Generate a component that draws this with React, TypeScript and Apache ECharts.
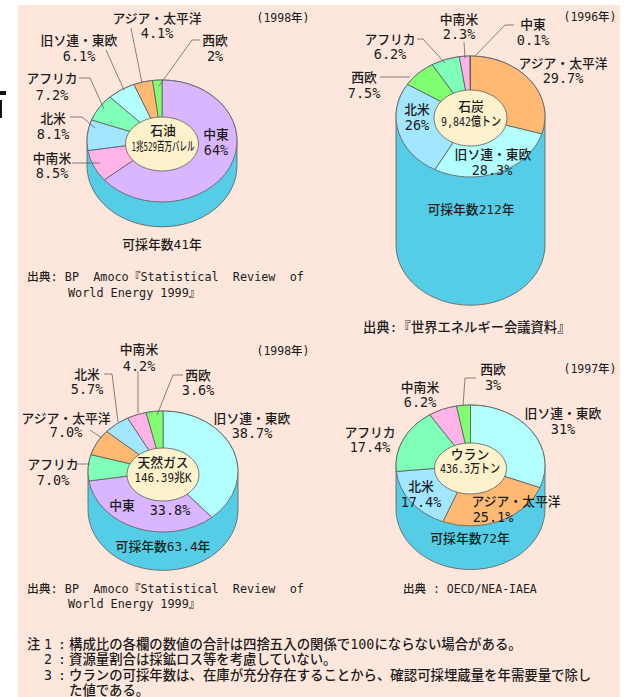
import React, { useEffect, useRef } from "react";
import * as echarts from "echarts";

// ---- data ----
const oilCategories = ["中東", "中南米", "北米", "アフリカ", "旧ソ連・東欧", "アジア・太平洋", "西欧"];
const oilValues = [64, 8.5, 8.1, 7.2, 6.1, 4.1, 2];
const coalCategories = ["アジア・太平洋", "旧ソ連・東欧", "北米", "西欧", "アフリカ", "中南米", "中東"];
const coalValues = [29.7, 28.3, 26, 7.5, 6.2, 2.3, 0.1];
const gasCategories = ["旧ソ連・東欧", "中東", "アフリカ", "アジア・太平洋", "北米", "中南米", "西欧"];
const gasValues = [38.7, 33.8, 7.0, 7.0, 5.7, 4.2, 3.6];
const uraniumCategories = ["旧ソ連・東欧", "アジア・太平洋", "北米", "アフリカ", "中南米", "西欧"];
const uraniumValues = [31, 25.1, 17.4, 17.4, 6.2, 3];
const valueTexts = {
  oil: ["64%", "8.5%", "8.1%", "7.2%", "6.1%", "4.1%", "2%"],
  coal: ["29.7%", "28.3%", "26%", "7.5%", "6.2%", "2.3%", "0.1%"],
  gas: ["38.7%", "33.8%", "7.0%", "7.0%", "5.7%", "4.2%", "3.6%"],
  uranium: ["31%", "25.1%", "17.4%", "17.4%", "6.2%", "3%"],
};
const years = ["(1998年)", "(1996年)", "(1998年)", "(1997年)"];
const resources = ["石油", "石炭", "天然ガス", "ウラン"];
const amounts = ["1兆529百万バレル", "9,842億トン", "146.39兆K", "436.3万トン"];
const reserveYears = [41, 212, 63.4, 72];
const reserveLife = ["可採年数41年", "可採年数212年", "可採年数63.4年", "可採年数72年"];
const notes = [
  "構成比の各欄の数値の合計は四捨五入の関係で100にならない場合がある。",
  "資源量割合は採鉱ロス等を考慮していない。",
  "ウランの可採年数は、在庫が充分存在することから、確認可採埋蔵量を年需要量で除し",
  "た値である。",
];

// ---- styling and layout ----
const FONT = '"DejaVu Sans Mono","Noto Sans CJK JP",monospace';
const INK = "#1c1c1c";
const EDGE = "#5c5c5c";
const PAGE_BG = "#fde6db";
const CYL = "#55cde6";
const HOLE = "#fdf2cc";
const DEPTH_PER_YEAR = 0.605;
const colors: Record<string, string> = {
  中東: "#d9b6ff",
  中南米: "#ffb3e6",
  北米: "#a3e6ff",
  アフリカ: "#80ffb8",
  旧ソ連・東欧: "#b3ffff",
  アジア・太平洋: "#ffb973",
  西欧: "#80ff73",
};

type Pie = {
  categories: string[]; values: number[]; texts: string[];
  cx: number; cy: number; rx: number; ry: number;
  holeCy: number; holeRx: number; holeRy: number;
  // label anchor: [category-name x, name y, value x, value y]
  labels: Record<string, number[]>;
  leaders: number[][][];
  year: number[]; center: number[]; amountY: number; amountScale: number; life: number[];
};

const pies: Pie[] = [
  {
    categories: oilCategories, values: oilValues, texts: valueTexts.oil,
    cx: 162, cy: 141, rx: 75, ry: 61, holeCy: 144, holeRx: 36.5, holeRy: 27,
    labels: {
      中東: [216, 134, 216, 150],
      中南米: [52, 158, 52, 173],
      北米: [53, 118, 53, 134],
      アフリカ: [52, 78, 52, 95],
      旧ソ連・東欧: [79, 40, 79, 56],
      アジア・太平洋: [157, 18, 157, 33],
      西欧: [215, 40, 215, 56],
    },
    leaders: [
      [[131, 28], [142, 83]],
      [[200, 40], [192, 40], [159, 86]],
      [[106, 50], [124, 90]],
      [[79, 78], [90, 78], [104, 109]],
      [[70, 117], [82, 117], [95, 128]],
      [[72, 163], [100, 163]],
    ],
    year: [283, 18], center: [163, 130], amountY: 146, amountScale: 0.6, life: [162, 244],
  },
  {
    categories: coalCategories, values: coalValues, texts: valueTexts.coal,
    cx: 470.5, cy: 116.5, rx: 74.5, ry: 60.5, holeCy: 118, holeRx: 36.5, holeRy: 28,
    labels: {
      アジア・太平洋: [563, 63, 563, 78],
      旧ソ連・東欧: [493, 154, 492, 170],
      北米: [417, 109, 417, 125],
      西欧: [364, 77, 364, 93],
      アフリカ: [390, 39, 390, 54],
      中南米: [459, 19, 459, 34],
      中東: [533, 24, 533, 40],
    },
    leaders: [
      [[514, 25], [505, 25], [475, 56]],
      [[417, 39], [423, 39], [445, 63]],
      [[380, 77], [410, 77]],
      [[464, 42], [465, 58]],
    ],
    year: [590, 17], center: [471, 106], amountY: 122, amountScale: 0.8, life: [471, 209],
  },
  {
    categories: gasCategories, values: gasValues, texts: valueTexts.gas,
    cx: 163, cy: 471.5, rx: 75, ry: 60.5, holeCy: 474.5, holeRx: 36, holeRy: 26.5,
    labels: {
      旧ソ連・東欧: [252, 418, 252, 433],
      中東: [122, 505, 170, 510],
      アフリカ: [53, 464, 53, 480],
      アジア・太平洋: [66, 418, 66, 432],
      北米: [87, 374, 87, 389],
      中南米: [139, 349, 139, 366],
      西欧: [198, 375, 198, 390],
    },
    leaders: [
      [[183, 375], [173, 375], [157, 415]],
      [[104, 374], [112, 374], [118, 422]],
      [[138, 371], [138, 413]],
      [[90, 430], [102, 438]],
      [[76, 464], [90, 464]],
    ],
    year: [283, 351], center: [163, 462], amountY: 478, amountScale: 0.88, life: [163, 546],
  },
  {
    categories: uraniumCategories, values: uraniumValues, texts: valueTexts.uranium,
    cx: 470.5, cy: 465.5, rx: 74.5, ry: 60.5, holeCy: 468.5, holeRx: 36, holeRy: 25.5,
    labels: {
      旧ソ連・東欧: [563, 413, 563, 429],
      アジア・太平洋: [516, 501, 493, 517],
      北米: [421, 486, 421, 502],
      アフリカ: [370, 432, 370, 447],
      中南米: [420, 387, 420, 402],
      西欧: [493, 369, 493, 385],
    },
    leaders: [[[476, 378], [465, 378], [463, 406]]],
    year: [590, 369], center: [470, 454], amountY: 469, amountScale: 0.8, life: [470, 538],
  },
];

const sources = [
  { x: 27, y: 277, size: 11.8, text: "出典: BP  Amoco『Statistical  Review  of" },
  { x: 68, y: 293, size: 11.8, text: "World Energy 1999』" },
  { x: 363, y: 327, size: 13.3, text: "出典:『世界エネルギー会議資料』" },
  { x: 27, y: 589, size: 11.8, text: "出典: BP  Amoco『Statistical  Review  of" },
  { x: 68, y: 604, size: 11.8, text: "World Energy 1999』" },
  { x: 403, y: 589, size: 11.5, text: "出典 : OECD/NEA-IAEA" },
];

const label = (text: string, x: number, y: number, size = 12.8, align = "center", extra: any = {}) => ({
  type: "text",
  z: 100,
  x,
  y,
  originX: 0,
  originY: 0,
  style: { text, fill: INK, font: `500 ${size}px ${FONT}`, align, verticalAlign: "middle" },
  silent: true,
  ...extra,
});

function buildOption() {
  const series: any[] = [];
  const graphic: any[] = [
    { type: "rect", z: 0, shape: { x: 18, y: 5, width: 602, height: 692 }, style: { fill: PAGE_BG }, silent: true },
    { type: "rect", z: 0, shape: { x: 0, y: 91, width: 6, height: 4 }, style: { fill: "#111" }, silent: true },
    { type: "rect", z: 0, shape: { x: 0, y: 100, width: 2, height: 18 }, style: { fill: "#111" }, silent: true },
  ];

  pies.forEach((p, pieIndex) => {
    const total = p.values.reduce((a, b) => a + b, 0);
    // cylinder side: height follows the reserve life
    series.push({
      type: "custom",
      coordinateSystem: "none",
      silent: true,
      data: [[reserveYears[pieIndex]]],
      renderItem: (_: any, api: any) => {
        const d = api.value(0) * DEPTH_PER_YEAR;
        const { cx, cy, rx, ry } = p;
        return {
          type: "path",
          shape: {
            pathData: `M${cx - rx} ${cy}L${cx - rx} ${cy + d}A${rx} ${ry} 0 0 0 ${cx + rx} ${cy + d}L${cx + rx} ${cy}A${rx} ${ry} 0 0 0 ${cx - rx} ${cy}Z`,
          },
          style: { fill: CYL, stroke: EDGE, lineWidth: 0.8 },
        };
      },
    });
    // slices, clockwise from the top
    let cum = 0;
    const data = p.values.map((v, i) => {
      const row = { name: p.categories[i], value: [cum, v] };
      cum += v;
      return row;
    });
    series.push({
      type: "custom",
      coordinateSystem: "none",
      silent: true,
      data,
      renderItem: (params: any, api: any) => {
        const a0 = (api.value(0) / total) * Math.PI * 2;
        const a1 = ((api.value(0) + api.value(1)) / total) * Math.PI * 2;
        const { cx, cy, rx, ry } = p;
        const x0 = cx + rx * Math.sin(a0), y0 = cy - ry * Math.cos(a0);
        const x1 = cx + rx * Math.sin(a1), y1 = cy - ry * Math.cos(a1);
        const large = a1 - a0 > Math.PI ? 1 : 0;
        return {
          type: "path",
          shape: { pathData: `M${cx} ${cy}L${x0} ${y0}A${rx} ${ry} 0 ${large} 1 ${x1} ${y1}Z` },
          style: { fill: colors[p.categories[params.dataIndex]], stroke: EDGE, lineWidth: 0.8 },
        };
      },
    });
    // centre hole
    series.push({
      type: "custom",
      coordinateSystem: "none",
      silent: true,
      data: [[total]],
      renderItem: () => ({
        type: "ellipse",
        shape: { cx: p.cx, cy: p.holeCy, rx: p.holeRx, ry: p.holeRy },
        style: { fill: HOLE, stroke: EDGE, lineWidth: 0.8 },
      }),
    });

    p.leaders.forEach((pts) =>
      graphic.push({
        type: "polyline",
        z: 90,
        shape: { points: pts },
        style: { stroke: "#666", lineWidth: 0.8, fill: "none" },
        silent: true,
      })
    );
    p.categories.forEach((c, i) => {
      const [nx, ny, vx, vy] = p.labels[c];
      graphic.push(label(c, nx, ny));
      graphic.push(label(p.texts[i], vx, vy, 13.5));
    });
  });

  pies.forEach((p, i) => {
    graphic.push(label(years[i], p.year[0], p.year[1], 11.5));
    graphic.push(label(resources[i], p.center[0], p.center[1]));
    graphic.push(label(amounts[i], p.center[0], p.amountY, 12.5, "center", { scaleX: p.amountScale }));
    graphic.push(label(reserveLife[i], p.life[0], p.life[1]));
  });

  sources.forEach((s) => graphic.push(label(s.text, s.x, s.y, s.size, "left")));

  graphic.push(label("注", 27, 644, 13.2, "left"));
  graphic.push(label("1", 44, 644, 13.2, "left"));
  graphic.push(label(":", 58, 644, 13.2, "left"));
  graphic.push(label("2", 44, 659, 13.2, "left"));
  graphic.push(label(":", 58, 659, 13.2, "left"));
  graphic.push(label("3", 44, 675, 13.2, "left"));
  graphic.push(label(":", 58, 675, 13.2, "left"));
  [644, 659, 675, 690].forEach((y, i) => graphic.push(label(notes[i], 69, y, 13.4, "left")));

  return { animation: false, backgroundColor: "#ffffff", series, graphic: { elements: graphic } };
}

export default function App() {
  const ref = useRef<HTMLDivElement>(null);
  useEffect(() => {
    document.body.style.margin = "0";
    const chart = echarts.init(ref.current!, undefined, { renderer: "svg" });
    chart.setOption(buildOption() as any);
    return () => chart.dispose();
  }, []);
  return <div ref={ref} style={{ width: 629, height: 697 }} />;
}
